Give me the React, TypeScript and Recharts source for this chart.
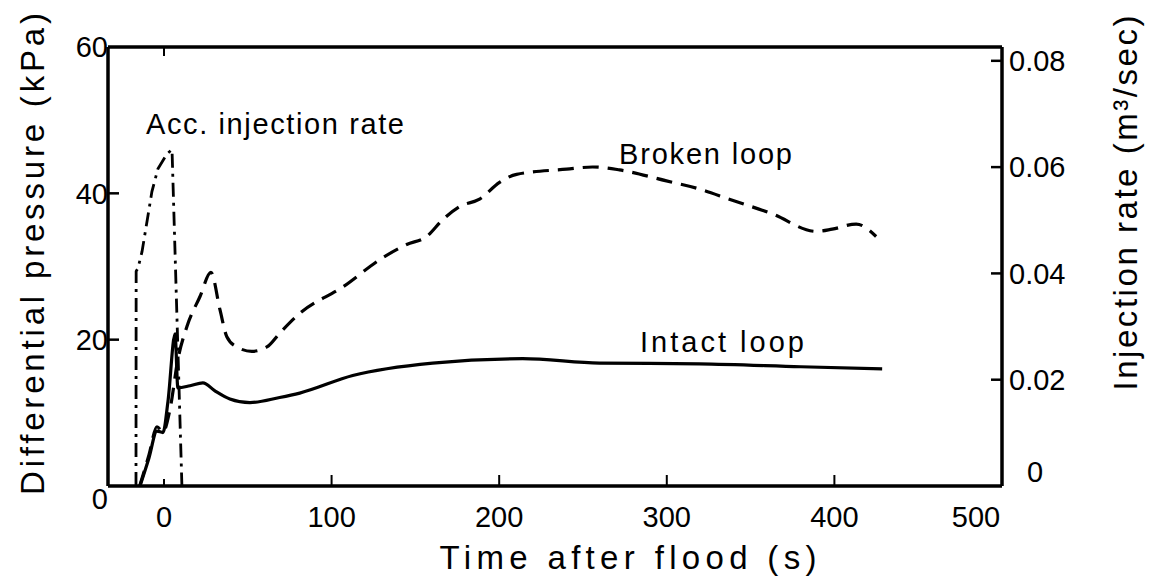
import React from 'react';
import { LineChart, Line, XAxis, YAxis, ReferenceLine, Customized } from 'recharts';

// Time after flood (s) and values
const brokenTime = [-14.5, -9, -4.2, -0.6, 3.6, 8.3, 13.7, 21.5, 28, 33.4, 37.5, 43.5, 52.4, 61.4, 69.1, 81, 106.7, 130.5, 144.8, 156.7, 166.3, 176.4, 188.3, 200.2, 210.4, 240.2, 255.7, 271.8, 299.8, 319.4, 337.3, 362.9, 389.2, 398.7, 413, 424.9];
const brokenKPa = [0, 4.2, 8.1, 7.4, 10.5, 17.3, 21.8, 25.9, 29.2, 24.1, 20.4, 19.0, 18.4, 19.0, 20.9, 23.6, 27.2, 31.2, 33.0, 34.1, 36.4, 38.2, 39.2, 41.5, 42.6, 43.3, 43.6, 43.2, 41.7, 40.6, 39.2, 37.2, 34.8, 35.1, 35.8, 34.1];

const intactTime = [-14.3, -9, -4.2, -0.6, 2.4, 6.6, 8.3, 15.5, 23.2, 30.4, 39.3, 51.3, 69, 81, 112.6, 160.3, 214, 259.8, 319.4, 380, 428.5];
const intactKPa = [0, 3.8, 7.5, 7.3, 11.6, 20.8, 13.4, 13.7, 14.1, 13.0, 11.9, 11.4, 12.1, 12.7, 15.1, 16.8, 17.4, 16.8, 16.7, 16.3, 16.0];

const accTime = [-16.7, -16.6, -15.5, -13.1, -10, -7.2, -3.6, 1.8, 4.8, 10.7];
const accRate = [0, 0.0404, 0.041, 0.0441, 0.05, 0.0554, 0.0597, 0.0625, 0.0633, 0];

const xTicks = [0, 100, 200, 300, 400, 500];
const leftTicks = [0, 20, 40, 60];
const rightTicks = [0, 0.02, 0.04, 0.06, 0.08];

const X_DOMAIN: [number, number] = [-33.4, 500];
const L_DOMAIN: [number, number] = [0, 60];
const R_DOMAIN: [number, number] = [0, 0.0826];

const broken = brokenTime.map((t, i) => ({ t, v: brokenKPa[i] }));
const intact = intactTime.map((t, i) => ({ t, v: intactKPa[i] }));
const acc = accTime.map((t, i) => ({ t, v: accRate[i] }));

// plot area in px (for converting inward tick-mark lengths into axis units)
const PLOT_W = 894;
const PLOT_H = 439;
const xPerPx = (X_DOMAIN[1] - X_DOMAIN[0]) / PLOT_W;
const lPerPx = (L_DOMAIN[1] - L_DOMAIN[0]) / PLOT_H;

const FONT = '"Liberation Sans", Arial, sans-serif';
const TICK_FS = 29;
const FRAME = 3.5;

const LeftTick = (props: any) => {
  const { x, y, payload } = props;
  const v = payload.value;
  const dy = v === 0 ? 13 : 0;
  return (
    <text x={x + 5} y={y + dy} dy="0.355em" textAnchor="end" fontSize={TICK_FS} fontFamily={FONT} fill="#000">
      {v}
    </text>
  );
};

const RightTick = (props: any) => {
  const { x, y, payload } = props;
  const v = payload.value;
  const label = v === 0 ? '0' : v.toFixed(2);
  return (
    <text x={v === 0 ? x + 18 : x} y={v === 0 ? y - 14 : y} dy="0.355em" textAnchor="start" fontSize={TICK_FS} fontFamily={FONT} fill="#000">
      {label}
    </text>
  );
};

const BottomTick = (props: any) => {
  const { x, y, payload } = props;
  const v = payload.value;
  return (
    <text x={v === 500 ? x - 26 : x} y={y} dy="0.71em" textAnchor="middle" fontSize={TICK_FS} fontFamily={FONT} fill="#000">
      {v}
    </text>
  );
};

const Titles = () => (
  <g fontFamily={FONT} fill="#000">
    <text x={0} y={0} transform="translate(44,254) rotate(-90)" textAnchor="middle" fontSize={33} textLength={482} lengthAdjust="spacing">
      Differential pressure  (kPa)
    </text>
    <text x={0} y={0} transform="translate(1137,203) rotate(-90)" textAnchor="middle" fontSize={33} textLength={375} lengthAdjust="spacing">
      Injection rate  (m³/sec)
    </text>
    <text x={628} y={569} textAnchor="middle" fontSize={33} textLength={377} lengthAdjust="spacing">
      Time after flood  (s)
    </text>
    <text x={146} y={134} fontSize={29} textLength={258} lengthAdjust="spacing">Acc. injection rate</text>
    <text x={619} y={164} fontSize={29} textLength={173} lengthAdjust="spacing">Broken loop</text>
    <text x={640} y={352} fontSize={29} textLength={164} lengthAdjust="spacing">Intact loop</text>
  </g>
);

export default function App() {
  const innerLeft = leftTicks.filter((v) => v > L_DOMAIN[0] && v < L_DOMAIN[1]);
  const innerRight = rightTicks.filter((v) => v > R_DOMAIN[0]);
  const innerBottom = xTicks.filter((v) => v < X_DOMAIN[1]);
  return (
    <div style={{ position: 'absolute', left: 0, top: 0, background: '#fff' }}>
      <LineChart width={1154} height={576} margin={{ top: 47, right: 92, bottom: 50, left: 48 }}>
        <XAxis
          xAxisId="b"
          type="number"
          dataKey="t"
          domain={X_DOMAIN}
          ticks={xTicks}
          allowDataOverflow
          height={40}
          axisLine={{ stroke: '#000', strokeWidth: FRAME }}
          tickLine={false}
          tickSize={0}
          tickMargin={20}
          tick={<BottomTick />}
        />
        <YAxis
          yAxisId="l"
          type="number"
          domain={L_DOMAIN}
          ticks={leftTicks}
          width={60}
          axisLine={{ stroke: '#000', strokeWidth: FRAME }}
          tickLine={false}
          tickSize={0}
          tickMargin={5}
          tick={<LeftTick />}
        />
        <YAxis
          yAxisId="r"
          orientation="right"
          type="number"
          domain={R_DOMAIN}
          ticks={rightTicks}
          allowDataOverflow
          width={60}
          axisLine={{ stroke: '#000', strokeWidth: FRAME }}
          tickLine={false}
          tickSize={0}
          tickMargin={7}
          tick={<RightTick />}
        />
        <ReferenceLine yAxisId="l" xAxisId="b" segment={[{ x: X_DOMAIN[0], y: L_DOMAIN[1] }, { x: X_DOMAIN[1], y: L_DOMAIN[1] }]} stroke="#000" strokeWidth={FRAME} ifOverflow="visible" />
        {innerLeft.map((v) => (
          <ReferenceLine key={'l' + v} xAxisId="b" yAxisId="l" segment={[{ x: X_DOMAIN[0], y: v }, { x: X_DOMAIN[0] + 11 * xPerPx, y: v }]} stroke="#000" strokeWidth={2.5} ifOverflow="visible" />
        ))}
        {innerRight.map((v) => (
          <ReferenceLine key={'r' + v} xAxisId="b" yAxisId="r" segment={[{ x: X_DOMAIN[1] - 11 * xPerPx, y: v }, { x: X_DOMAIN[1], y: v }]} stroke="#000" strokeWidth={2.5} ifOverflow="visible" />
        ))}
        {innerBottom.map((v) => (
          <ReferenceLine key={'b' + v} xAxisId="b" yAxisId="l" segment={[{ x: v, y: 0 }, { x: v, y: (v === 0 ? 7 : 11) * lPerPx }]} stroke="#000" strokeWidth={2} ifOverflow="visible" />
        ))}
        <ReferenceLine xAxisId="b" yAxisId="l" segment={[{ x: 0, y: L_DOMAIN[1] }, { x: 0, y: L_DOMAIN[1] - 9 * lPerPx }]} stroke="#000" strokeWidth={2} ifOverflow="visible" />
        <Line xAxisId="b" yAxisId="l" data={broken} dataKey="v" type="monotone" stroke="#000" strokeWidth={3.2} strokeDasharray="16 9" dot={false} isAnimationActive={false} />
        <Line xAxisId="b" yAxisId="l" data={intact} dataKey="v" type="monotone" stroke="#000" strokeWidth={3.2} dot={false} isAnimationActive={false} />
        <Line xAxisId="b" yAxisId="r" data={acc} dataKey="v" type="linear" stroke="#000" strokeWidth={2.8} strokeDasharray="14 6 3 6" dot={false} isAnimationActive={false} />
        <Customized component={Titles} />
      </LineChart>
    </div>
  );
}
